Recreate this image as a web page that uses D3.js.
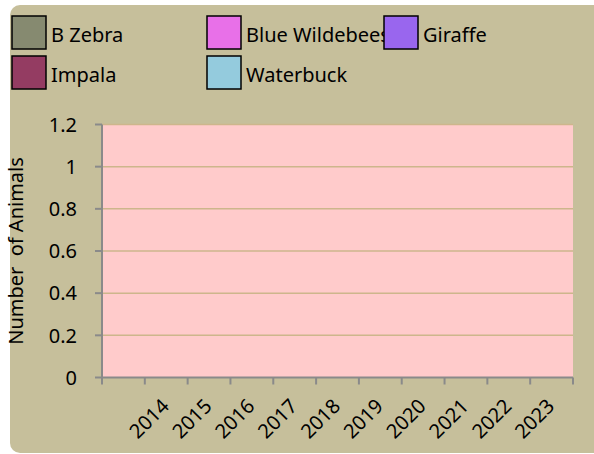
<!DOCTYPE html>
<html>
<head>
<meta charset="utf-8">
<script src="https://cdn.jsdelivr.net/npm/d3@7"></script>
<style>
  html, body { margin: 0; padding: 0; background: #ffffff; }
  svg { display: block; font-family: "Noto Sans", sans-serif; }
</style>
</head>
<body>
<div id="chart"></div>
<script>
// categories (first slot is an empty category, as in the source sheet)
var years = ["", "2014", "2015", "2016", "2017", "2018", "2019", "2020", "2021", "2022", "2023"];

var seriesNames = ["B Zebra", "Blue Wildebeest", "Giraffe", "Impala", "Waterbuck"];
var seriesColors = ["#868a70", "#e870e8", "#9966ee", "#943c62", "#94cbdd"];

// no counts were entered, every series is zero
var bZebra         = [0, 0, 0, 0, 0, 0, 0, 0, 0, 0, 0];
var blueWildebeest = [0, 0, 0, 0, 0, 0, 0, 0, 0, 0, 0];
var giraffe        = [0, 0, 0, 0, 0, 0, 0, 0, 0, 0, 0];
var impala         = [0, 0, 0, 0, 0, 0, 0, 0, 0, 0, 0];
var waterbuck      = [0, 0, 0, 0, 0, 0, 0, 0, 0, 0, 0];

var yTicks = [0, 0.2, 0.4, 0.6, 0.8, 1, 1.2];

var allSeries = [bZebra, blueWildebeest, giraffe, impala, waterbuck];

var width = 594, height = 454;
var plot = { left: 102, right: 573, top: 124.5, bottom: 377.5 };

var svg = d3.select("#chart").append("svg")
  .attr("width", width)
  .attr("height", height);

// chart area background
svg.append("rect")
  .attr("x", 10).attr("y", 5)
  .attr("width", 610).attr("height", 448)
  .attr("rx", 10).attr("ry", 10)
  .attr("fill", "#c6bf9b");

var x = d3.scaleBand()
  .domain(years)
  .range([plot.left, plot.right])
  .paddingInner(0.25).paddingOuter(0.125);

var xEdge = d3.scaleBand().domain(years).range([plot.left, plot.right]).padding(0);

var y = d3.scaleLinear().domain([0, 1.2]).range([plot.bottom, plot.top]);

// plot area
svg.append("rect")
  .attr("x", plot.left).attr("y", plot.top)
  .attr("width", plot.right - plot.left)
  .attr("height", plot.bottom - plot.top)
  .attr("fill", "#ffcbcb");

// gridlines
svg.append("g").selectAll("line")
  .data(yTicks.filter(d => d > 0))
  .enter().append("line")
  .attr("x1", plot.left).attr("x2", plot.right)
  .attr("y1", d => y(d)).attr("y2", d => y(d))
  .attr("stroke", "#cdb68c").attr("stroke-width", 1.5);

// bars (all zero height)
var sub = d3.scaleBand().domain(seriesNames).range([0, x.bandwidth()]);
var barGroups = svg.append("g").selectAll("g")
  .data(allSeries).enter().append("g")
  .attr("fill", (d, i) => seriesColors[i]);
barGroups.each(function (vals, si) {
  d3.select(this).selectAll("rect")
    .data(vals).enter().append("rect")
    .attr("x", (v, i) => x(years[i]) + sub(seriesNames[si]))
    .attr("width", sub.bandwidth())
    .attr("y", v => y(v))
    .attr("height", v => y(0) - y(v));
});

var axisColor = "#8a8a8a";

// y axis
var yAxis = svg.append("g");
yAxis.append("line")
  .attr("x1", plot.left).attr("x2", plot.left)
  .attr("y1", plot.top).attr("y2", plot.bottom)
  .attr("stroke", axisColor).attr("stroke-width", 2);
yAxis.selectAll("line.tick")
  .data(yTicks).enter().append("line").attr("class", "tick")
  .attr("x1", plot.left - 7).attr("x2", plot.left)
  .attr("y1", d => y(d)).attr("y2", d => y(d))
  .attr("stroke", axisColor).attr("stroke-width", 2);
yAxis.selectAll("text")
  .data(yTicks).enter().append("text")
  .attr("x", 77).attr("y", d => y(d)).attr("dy", "0.36em")
  .attr("text-anchor", "end")
  .attr("font-size", 20).attr("fill", "#000")
  .text(d => d);

// x axis
var xAxis = svg.append("g");
xAxis.append("line")
  .attr("x1", plot.left).attr("x2", plot.right)
  .attr("y1", plot.bottom).attr("y2", plot.bottom)
  .attr("stroke", axisColor).attr("stroke-width", 2);
var edges = years.map(d => xEdge(d)).concat([plot.right]);
xAxis.selectAll("line.tick")
  .data(edges).enter().append("line").attr("class", "tick")
  .attr("x1", d => d).attr("x2", d => d)
  .attr("y1", plot.bottom).attr("y2", plot.bottom + 7)
  .attr("stroke", axisColor).attr("stroke-width", 2);
xAxis.selectAll("text")
  .data(years.filter(d => d !== "")).enter().append("text")
  .attr("transform", d => "translate(" + (xEdge(d) + xEdge.bandwidth() / 2 + 4) + "," + (plot.bottom + 30) + ") rotate(-45)")
  .attr("text-anchor", "end")
  .attr("font-size", 20).attr("fill", "#000")
  .text(d => d);

// y axis title
svg.append("text")
  .attr("transform", "translate(23," + ((plot.top + plot.bottom) / 2) + ") rotate(-90)")
  .attr("text-anchor", "middle")
  .attr("font-size", 20).attr("fill", "#000")
  .style("white-space", "pre")
  .text("Number  of Animals");

// legend
var legendCols = [12, 207, 384];
var legendRows = [16, 56];
var legend = svg.append("g");
seriesNames.forEach(function (name, i) {
  var lx = legendCols[i % 3], ly = legendRows[Math.floor(i / 3)];
  legend.append("rect")
    .attr("x", lx).attr("y", ly)
    .attr("width", 34).attr("height", 33)
    .attr("fill", seriesColors[i])
    .attr("stroke", "#000").attr("stroke-width", 1.5);
  legend.append("text")
    .attr("x", lx + 39).attr("y", ly + 26)
    .attr("font-size", 20).attr("fill", "#000")
    .text(name);
});
</script>
</body>
</html>
